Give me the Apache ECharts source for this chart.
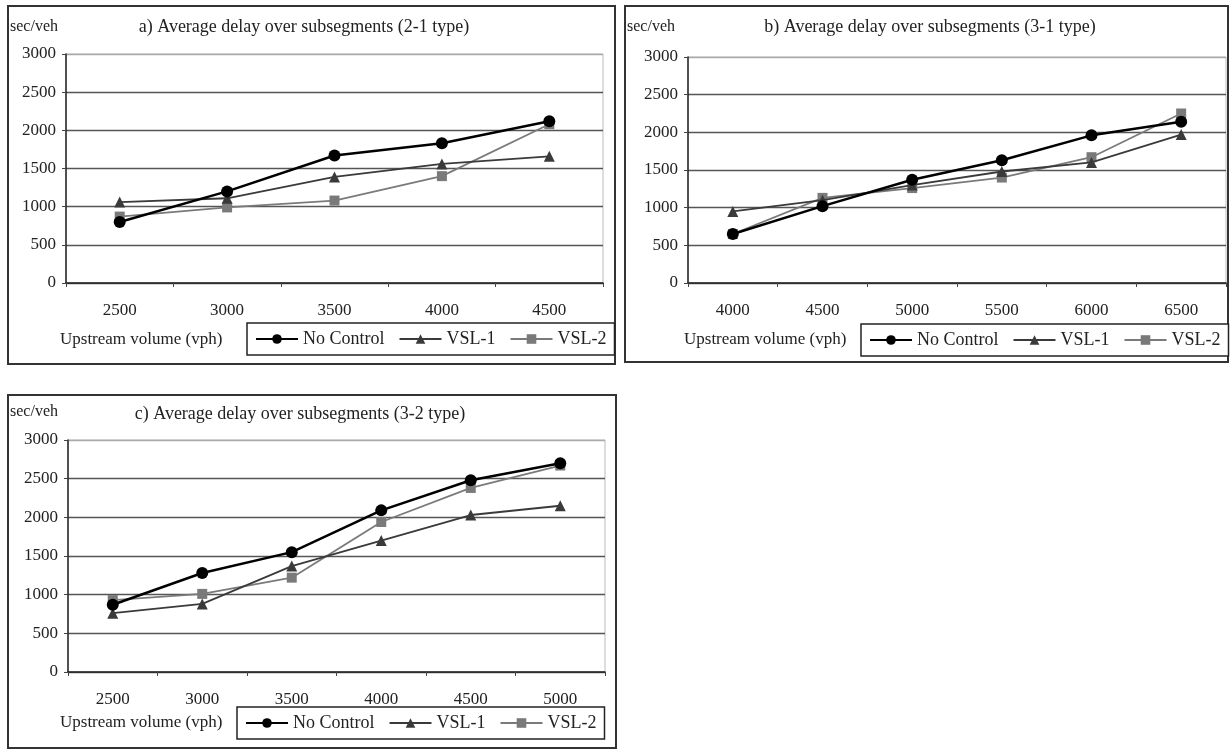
<!DOCTYPE html>
<html>
<head>
<meta charset="utf-8">
<script src="https://cdn.jsdelivr.net/npm/echarts@6/dist/echarts.min.js"></script>
<style>
html,body{margin:0;padding:0;background:#fff;}
#c{width:1230px;height:751px;}
</style>
</head>
<body>
<div id="c"></div>
<script>
// ---- data ----
const catsA = ['2500','3000','3500','4000','4500'];
const noControlA = [800, 1200, 1670, 1830, 2120];
const vsl1A = [1060, 1110, 1390, 1560, 1660];
const vsl2A = [870, 990, 1080, 1400, 2080];

const catsB = ['4000','4500','5000','5500','6000','6500'];
const noControlB = [650, 1020, 1370, 1630, 1960, 2140];
const vsl1B = [950, 1100, 1300, 1480, 1600, 1970];
const vsl2B = [650, 1130, 1260, 1400, 1670, 2250];

const catsC = ['2500','3000','3500','4000','4500','5000'];
const noControlC = [870, 1280, 1550, 2090, 2480, 2700];
const vsl1C = [760, 880, 1370, 1700, 2030, 2150];
const vsl2C = [930, 1010, 1220, 1940, 2380, 2670];

const yTicks = [0, 500, 1000, 1500, 2000, 2500, 3000];
const seriesNames = ['No Control', 'VSL-1', 'VSL-2'];
const titles = ['a) Average delay over subsegments (2-1 type)',
                'b) Average delay over subsegments (3-1 type)',
                'c) Average delay over subsegments (3-2 type)'];
const yUnit = 'sec/veh';
const xName = 'Upstream volume (vph)';

// ---- layout ----
const FONT = '"Liberation Serif", "DejaVu Serif", serif';
const TXT = '#222';
const panels = [
  {box:[8,6,607,358], grid:{left:66, top:54, width:537, height:229}, cats:catsA, data:[noControlA,vsl1A,vsl2A],
   legend:{left:247, top:323, width:366, height:33}, xname:[60,340], title:[304,27], unit:[10,27]},
  {box:[625,6,603,356], grid:{left:688, top:57, width:538, height:226}, cats:catsB, data:[noControlB,vsl1B,vsl2B],
   legend:{left:861, top:324, width:367, height:33}, xname:[684,340], title:[930,27], unit:[627,27]},
  {box:[8,395,608,353], grid:{left:68, top:440, width:537, height:232}, cats:catsC, data:[noControlC,vsl1C,vsl2C],
   legend:{left:237, top:707, width:368, height:32}, xname:[60,723], title:[300,414], unit:[10,412]}
];

const styles = [
  {color:'#000', symbol:'circle', size:12, width:2.5},
  {color:'#3a3a3a', symbol:'triangle', size:11, width:1.8},
  {color:'#7a7a7a', symbol:'rect', size:10, width:1.8}
];

const option = {
  animation:false,
  backgroundColor:'#fff',
  textStyle:{fontFamily:FONT},
  grid:[], xAxis:[], yAxis:[], series:[], legend:[], title:[], graphic:[]
};

panels.forEach((p, i) => {
  option.graphic.push({type:'rect', shape:{x:p.box[0], y:p.box[1], width:p.box[2], height:p.box[3]},
    style:{fill:'none', stroke:'#333', lineWidth:2}, z:-1});
  option.graphic.push({type:'text', x:p.title[0], y:p.title[1],
    style:{text:titles[i], font:'18px '+FONT, fill:TXT, textAlign:'center', textVerticalAlign:'middle'}});
  option.graphic.push({type:'text', x:p.unit[0], y:p.unit[1],
    style:{text:yUnit, font:'16px '+FONT, fill:TXT, textAlign:'left', textVerticalAlign:'middle'}});
  option.graphic.push({type:'text', x:p.xname[0], y:p.xname[1],
    style:{text:xName, font:'17px '+FONT, fill:TXT, textAlign:'left', textVerticalAlign:'middle'}});
  option.grid.push({left:p.grid.left, top:p.grid.top, width:p.grid.width, height:p.grid.height,
    show:true, borderColor:'#bbb', borderWidth:1, containLabel:false});
  option.xAxis.push({type:'category', gridIndex:i, data:p.cats, boundaryGap:true,
    axisLine:{lineStyle:{color:'#222', width:1.5}},
    axisTick:{show:true, inside:false, length:4, lineStyle:{color:'#444'}},
    axisLabel:{color:TXT, fontFamily:FONT, fontSize:17, margin:19},
    splitLine:{show:false}});
  option.yAxis.push({type:'value', gridIndex:i, min:yTicks[0], max:yTicks[yTicks.length-1], interval:500,
    axisLine:{show:true, lineStyle:{color:'#222', width:1.5}},
    axisTick:{show:true, length:4, lineStyle:{color:'#444'}},
    axisLabel:{color:TXT, fontFamily:FONT, fontSize:17, margin:10, formatter: v => String(v)},
    splitLine:{show:true, lineStyle:{color:['#555','#555','#555','#555','#555','#555','#aaa'], width:1.3}}});
  seriesNames.forEach((n, k) => {
    const s = styles[k];
    option.series.push({type:'line', name:n, xAxisIndex:i, yAxisIndex:i, data:p.data[k],
      symbol:s.symbol, symbolSize:s.size, showSymbol:true,
      lineStyle:{color:s.color, width:s.width}, itemStyle:{color:s.color}, z:10-k});
  });
  option.legend.push({left:p.legend.left, top:p.legend.top, width:p.legend.width, height:p.legend.height,
    orient:'horizontal', data:seriesNames, itemWidth:42, itemHeight:12, itemGap:14,
    padding:[7,8,7,8], borderColor:'#222', borderWidth:1.5, backgroundColor:'#fff',
    textStyle:{color:TXT, fontFamily:FONT, fontSize:18}, selectedMode:false});
});

const chart = echarts.init(document.getElementById('c'), null, {renderer:'canvas'});
chart.setOption(option);
</script>
</body>
</html>
